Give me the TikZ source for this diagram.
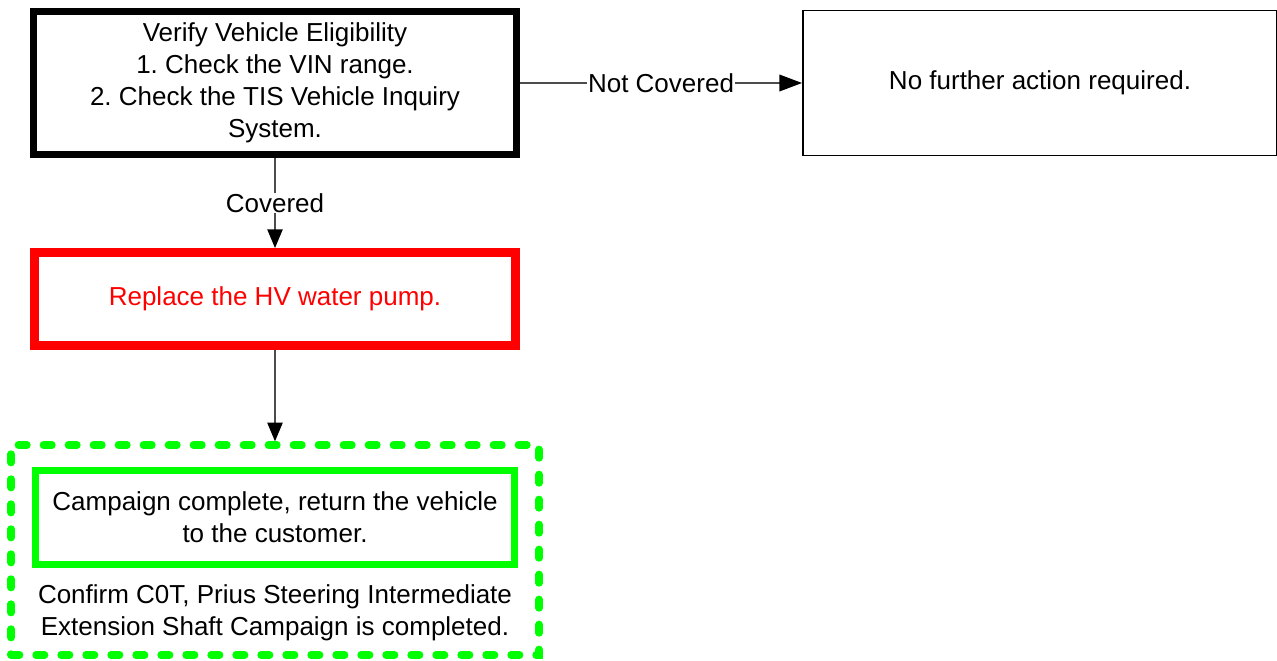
\documentclass[tikz,border=0pt]{standalone}
\usepackage{fontspec}
\setmainfont{Liberation Sans}
\usetikzlibrary{arrows.meta}
\frenchspacing

\tikzset{
  stepbox/.style={draw, rectangle, align=center, inner sep=0pt},
  flowline/.style={draw=black!70, line width=1pt},
  flowarrow/.style={flowline, -{Triangle[length=14pt,width=11.5pt,color=black]}},
  edgelabel/.style={fill=white, inner sep=0.5pt, text=black}
}

\begin{document}
\begin{tikzpicture}[x=0.75pt,y=0.75pt,yscale=-1,xscale=1, font=\fontsize{19.5}{24}\selectfont]
    \useasboundingbox (0,0) rectangle (1277,660);

    %Shape: Rectangle [id:verify]
    \node [stepbox, line width=5.25pt, minimum width=362.25pt, minimum height=107.25pt] (verify) at (275,83) {Verify Vehicle Eligibility\\1. Check the VIN range.\\2. Check the TIS Vehicle Inquiry\\System.};
    %Shape: Rectangle [id:nofurther]
    \node [stepbox, line width=1.4pt, minimum width=355.5pt, minimum height=108.75pt] (nofurther) at (1040,83) {No further action required.};
    %Shape: Rectangle [id:replace]
    \node [stepbox, draw=red, text=red, line width=6.75pt, minimum width=360.75pt, minimum height=69.75pt] (replace) at (275,299) {Replace the HV water pump.};
    %Shape: Dashed Rectangle [id:done]
    \node [stepbox, draw=green, line width=5.5pt, dash pattern=on 6.5pt off 12.25pt, line cap=round, minimum width=396pt, minimum height=157.5pt] (done) at (275,550) {};
    %Shape: Rectangle [id:campaign]
    \node [stepbox, draw=green, line width=5.25pt, minimum width=359.25pt, minimum height=70.5pt] (campaign) at (275,517.5) {Campaign complete, return the vehicle\\to the customer.};
    % Text Node
    \node [align=center, inner sep=0pt] (confirm) at (275,613) {Confirm C0T, Prius Steering Intermediate\\Extension Shaft Campaign is completed.};

    %Straight Lines
    \draw [flowarrow, -{Triangle[length=17pt,width=12.5pt,color=black]}] (verify.east) -- (nofurther.west) node [edgelabel, midway] (notcovered) {Not Covered};
    \draw [flowarrow] (verify.south) -- (replace.north) node [edgelabel, midway] (covered) {Covered};
    \draw [flowarrow] (replace.south) -- (done.north);

\end{tikzpicture}
\end{document}
